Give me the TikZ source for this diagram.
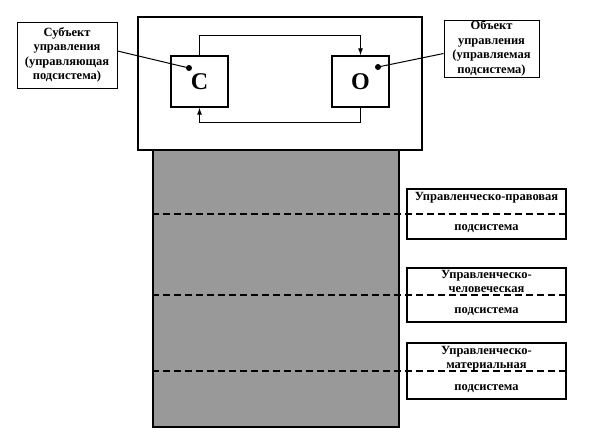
\documentclass[tikz,border=0pt]{standalone}
\usepackage{fontspec}
\setmainfont{Liberation Serif}
\usetikzlibrary{arrows.meta, positioning, calc}

\begin{document}
\begin{tikzpicture}[x=1pt, y=-1pt,
    frame/.style={draw, line width=1.2pt, fill=white, inner sep=0pt},
    unit/.style={draw, line width=1.2pt, fill=white, inner sep=0pt,
      minimum width=57pt, minimum height=51pt, font=\fontsize{24}{24}\selectfont\bfseries},
    label/.style={draw, line width=1pt, fill=white, align=center, inner sep=0pt,
      font=\fontsize{12.5}{14.5}\selectfont\bfseries},
    subbox/.style={draw, line width=1.2pt, inner sep=0pt, minimum width=159pt},
    subtxt/.style={inner sep=0pt, font=\fontsize{12.5}{14.5}\selectfont\bfseries},
    dline/.style={line width=1.5pt, dash pattern=on 7pt off 4pt},
    arr/.style={line width=1.1pt, -{Latex[length=7pt,width=5pt]}}]
  \useasboundingbox (0,0) rectangle (591,434);
  % shaded column and the frame above it
  \node[draw, line width=1.2pt, fill=black!40, minimum width=246pt, minimum height=277pt, inner sep=0pt] (zone) at (276,288.5) {};
  \node[frame, minimum width=284pt, minimum height=133pt] (top) at (280,83.5) {};
  \node[unit] (C) at (199.5,81.5) {C};
  \node[unit] (O) at (360.5,81.5) {O};
  \draw[arr] (C.north) -- ++(0,-20) -| (O.north);
  \draw[arr] (O.south) -- ++(0,15) -| (C.south);
  % labels
  \node[label, minimum width=100pt, minimum height=66pt] (sub) at (67,55) {Субъект\\управления\\(управляющая\\подсистема)};
  \node[label, minimum width=95pt, minimum height=57pt] (obj) at (491.5,48.5) {Объект\\управления\\(управляемая\\подсистема)};
  \fill (189,68) circle (3pt) coordinate (cdot);
  \fill (378,67) circle (3pt) coordinate (odot);
  \draw[line width=1pt] ($(sub.east)+(0,-4)$) -- (cdot);
  \draw[line width=1pt] ($(obj.west)+(0,5)$) -- (odot);
  % subsystems
  \node[subbox, minimum height=50pt] (law) at (486.5,214) {};
  \node[subtxt] at (486.5,198) {Управленческо-правовая};
  \node[subtxt] at (486.5,229) {подсистема};
  \node[subbox, minimum height=54pt] (hum) at (486.5,295) {};
  \node[subtxt, align=center] at (486.5,281.5) {Управленческо-\\человеческая};
  \node[subtxt] at (486.5,312) {подсистема};
  \node[subbox, minimum height=56pt] (mat) at (486.5,371) {};
  \node[subtxt, align=center] at (486.5,358.5) {Управленческо-\\материальная};
  \node[subtxt] at (486.5,389) {подсистема};
  \draw[dline] (zone.west |- law.center) -- (law.east);
  \draw[dline] (zone.west |- hum.center) -- (hum.east);
  \draw[dline] (zone.west |- mat.center) -- (mat.east);
\end{tikzpicture}
\end{document}
